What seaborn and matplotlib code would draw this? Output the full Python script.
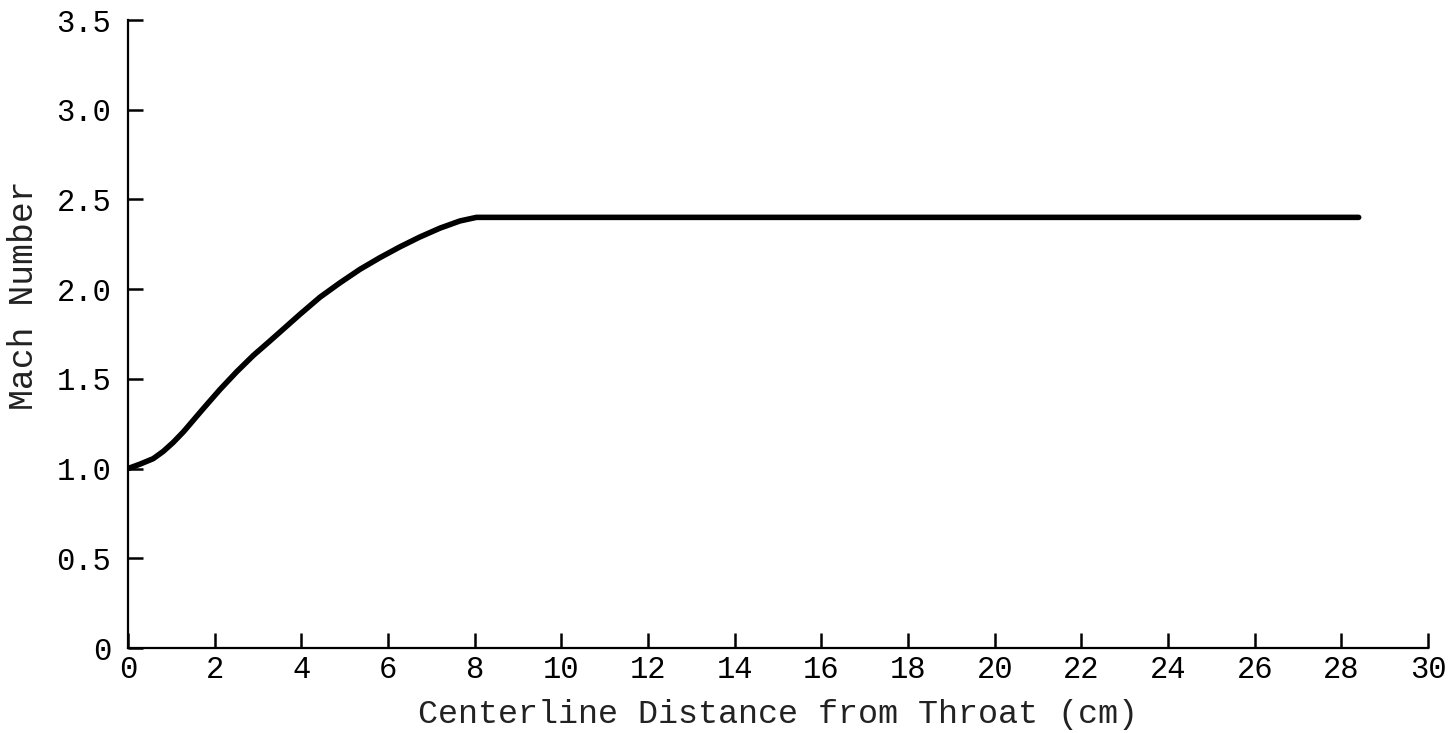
import matplotlib
matplotlib.use("Agg")
import matplotlib.pyplot as plt
import seaborn as sns
import pandas as pd

# Data
distance_cm = [0.0, 0.28, 0.58, 0.81, 1.04, 1.28, 1.51, 1.74, 2.12, 2.51, 2.89,
               3.27, 3.62, 3.97, 4.43, 4.89, 5.35, 5.81, 6.27, 6.73, 7.2, 7.66,
               8.04, 12.0, 16.0, 20.0, 24.0, 28.4]
mach_number = [1.0, 1.025, 1.055, 1.095, 1.145, 1.205, 1.27, 1.335, 1.44, 1.54, 1.63,
               1.71, 1.785, 1.86, 1.955, 2.035, 2.11, 2.175, 2.235, 2.29, 2.34, 2.38,
               2.40, 2.40, 2.40, 2.40, 2.40, 2.40]
x_ticks = list(range(0, 31, 2))
y_ticks = [0, 0.5, 1.0, 1.5, 2.0, 2.5, 3.0, 3.5]
y_tick_labels = ["0", "0.5", "1.0", "1.5", "2.0", "2.5", "3.0", "3.5"]

df = pd.DataFrame({"x": distance_cm, "y": mach_number})

sns.set_style("ticks")
plt.rcParams["font.family"] = ["Liberation Mono", "DejaVu Sans Mono"]

fig = plt.figure(figsize=(14.5, 7.33), dpi=100)
ax = fig.add_axes([128 / 1450, 85 / 733, 1300 / 1450, 628 / 733])

sns.lineplot(data=df, x="x", y="y", ax=ax, color="black", linewidth=4.0,
             solid_capstyle="round", solid_joinstyle="round")

ax.set_xlim(0, 30)
ax.set_ylim(0, 3.5)
ax.set_xticks(x_ticks)
ax.set_xticklabels([str(t) for t in x_ticks])
ax.set_yticks(y_ticks)
ax.set_yticklabels(y_tick_labels)

for side in ["top", "right"]:
    ax.spines[side].set_visible(False)
for side in ["left", "bottom"]:
    ax.spines[side].set_linewidth(1.6)
    ax.spines[side].set_color("black")

ax.tick_params(axis="both", direction="in", length=11, width=1.8,
               colors="black", labelsize=22)
ax.tick_params(axis="y", pad=12)
ax.tick_params(axis="x", pad=5)

ax.set_xlabel("Centerline Distance from Throat (cm)", fontsize=24, color="#222222")
ax.set_ylabel("Mach Number", fontsize=25, color="#222222")
ax.xaxis.set_label_coords(0.5, -0.082)
ax.yaxis.set_label_coords(-0.068, 0.562)

fig.savefig("out.png", dpi=100, facecolor="white")
